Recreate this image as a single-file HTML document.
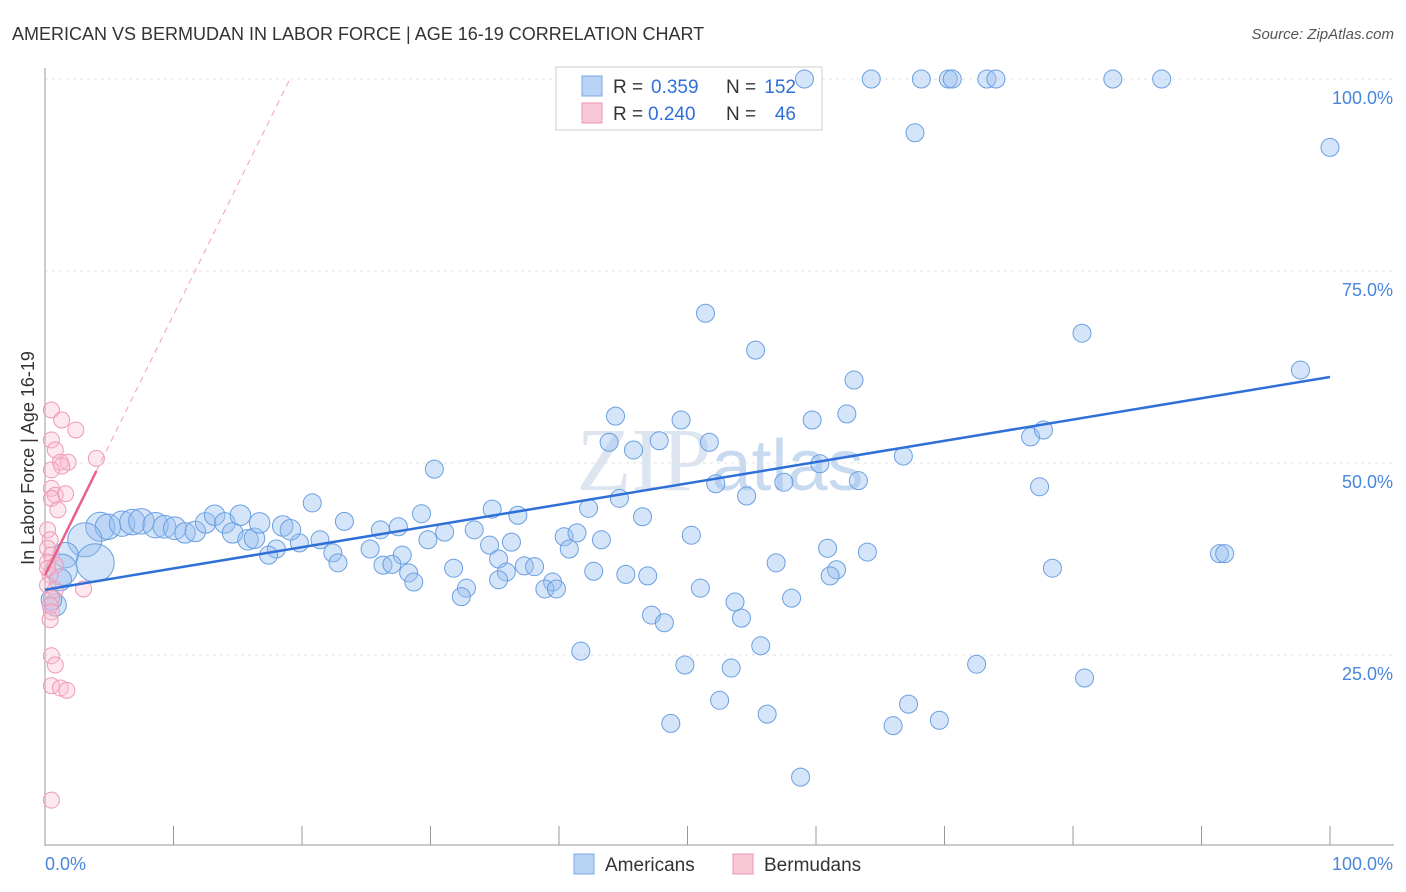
<!DOCTYPE html>
<html><head><meta charset="utf-8">
<style>
body{margin:0;background:#fff;font-family:"Liberation Sans",sans-serif;}
svg{display:block}
</style></head>
<body>
<svg id="chart" width="1406" height="892" viewBox="0 0 1406 892" font-family="Liberation Sans, sans-serif">
<text x="12" y="40" font-size="18" fill="#333">AMERICAN VS BERMUDAN IN LABOR FORCE | AGE 16-19 CORRELATION CHART</text>
<text x="1394" y="39" font-size="15" fill="#555" font-style="italic" text-anchor="end">Source: ZipAtlas.com</text>
<text x="720" y="490" font-size="90" fill="#dde6f0" text-anchor="middle" font-family="Liberation Serif, serif">ZIP<tspan font-family="Liberation Sans, sans-serif" font-size="72" fill="#c8daf0">atlas</tspan></text>
<g id="grid"></g>
<g id="axes"></g>
<g>
<rect x="556" y="67" width="266" height="63" fill="#fff" stroke="#ccc"/>
<rect x="582" y="76" width="20" height="20" fill="#b9d3f5" stroke="#7aa7e6"/>
<rect x="582" y="103" width="20" height="20" fill="#f9c8d6" stroke="#ee94b0"/>
<text x="613" y="93" font-size="19" fill="#333">R =</text>
<text x="651" y="93" font-size="19" fill="#2f6fd6">0.359</text>
<text x="726" y="93" font-size="19" fill="#333">N =</text>
<text x="796" y="93" font-size="19" fill="#2f6fd6" text-anchor="end">152</text>
<text x="613" y="120" font-size="19" fill="#333">R =</text>
<text x="648" y="120" font-size="19" fill="#2f6fd6">0.240</text>
<text x="726" y="120" font-size="19" fill="#333">N =</text>
<text x="796" y="120" font-size="19" fill="#2f6fd6" text-anchor="end">46</text>
</g>
<g id="marks"></g>
<text transform="translate(34,458) rotate(-90)" font-size="18" fill="#333" text-anchor="middle">In Labor Force | Age 16-19</text>
<g>
<rect x="574" y="854" width="20" height="20" fill="#b9d3f5" stroke="#7aa7e6"/>
<text x="605" y="871" font-size="19" fill="#333">Americans</text>
<rect x="733" y="854" width="20" height="20" fill="#f9c8d6" stroke="#ee94b0"/>
<text x="764" y="871" font-size="19" fill="#333">Bermudans</text>
</g>
</svg>
<script>
const blueX=[59.1,64.3,68.2,70.3,70.6,73.3,74.0,83.1,86.9,67.7,100,51.4,80.7,55.3,97.7,62.96,44.4,49.5,59.7,62.4,43.9,47.8,51.7,45.8,76.7,77.7,66.8,60.3,30.3,52.2,57.5,63.3,77.4,54.6,44.7,20.8,29.3,34.8,36.8,42.3,46.5,50.3,40.4,41.4,43.3,33.4,31.1,27.5,26.1,23.3,29.8,36.3,40.8,60.9,64.0,91.4,91.8,34.6,35.3,27.8,25.3,22.4,19.8,18.0,17.4,21.4,22.8,26.3,27.0,31.8,37.3,38.1,35.9,28.3,28.7,56.9,61.6,61.1,78.4,42.7,45.2,46.9,39.5,38.9,39.8,32.8,35.3,32.4,51.0,53.7,58.1,47.2,48.2,54.2,41.7,55.7,49.8,53.4,72.5,80.9,52.5,67.2,56.2,69.6,48.7,66.0,58.8,4.3,4.9,6.0,6.8,7.5,8.6,9.3,10.1,10.9,11.7,12.5,13.2,14.0,14.6,15.2,15.8,16.3,16.7,18.5,19.1,3.1,3.9,1.6,1.3,0.8,1.2,0.5];
const blueY=[100,100,100,100,100,100,100,100,100,93.0,91.1,69.5,66.9,64.7,62.1,60.8,56.1,55.6,55.6,56.4,52.7,52.9,52.7,51.7,53.4,54.3,50.9,49.9,49.2,47.3,47.5,47.7,46.9,45.7,45.4,44.8,43.4,44.0,43.2,44.1,43.0,40.6,40.4,40.9,40.0,41.3,41.0,41.7,41.3,42.4,40.0,39.7,38.8,38.9,38.4,38.2,38.2,39.3,37.5,38.0,38.8,38.3,39.6,38.8,38.0,40.0,37.0,36.7,36.8,36.3,36.6,36.5,35.8,35.7,34.5,37.0,36.1,35.3,36.3,35.9,35.5,35.3,34.5,33.6,33.6,33.7,34.8,32.6,33.7,31.9,32.4,30.2,29.2,29.8,25.5,26.2,23.7,23.3,23.8,22.0,19.1,18.6,17.3,16.5,16.1,15.8,9.1,41.7,41.7,42.1,42.3,42.4,41.9,41.7,41.5,40.9,41.1,42.2,43.2,42.2,40.9,43.2,40.0,40.2,42.2,41.8,41.3,40.0,37.0,38.0,36.1,31.5,34.8,32.2];
const blueW=[1,1,1,1,1,1,1,1,1,1,1,1,1,1,1,1,1,1,1,1,1,1,1,1,1,1,1,1,1,1,1,1,1,1,1,1,1,1,1,1,1,1,1,1,1,1,1,1,1,1,1,1,1,1,1,1,1,1,1,1,1,1,1,1,1,1,1,1,1,1,1,1,1,1,1,1,1,1,1,1,1,1,1,1,1,1,1,1,1,1,1,1,1,1,1,1,1,1,1,1,1,1,1,1,1,1,1,2.6,2,2,2,2,2,1.6,1.6,1.3,1.3,1.3,1.3,1.3,1.3,1.3,1.3,1.3,1.3,1.3,1.3,3.6,4.5,2,3,1.5,1.5,1.3];
const pinkX=[0.5,1.3,2.4,0.5,0.8,1.2,1.8,1.3,0.5,4.0,0.5,0.8,1.6,0.5,1.0,0.2,0.4,0.2,0.5,0.2,0.8,0.4,0.2,3.0,0.8,0.5,0.4,0.5,0.4,0.5,0.8,0.5,1.2,1.7,0.5,0.2];
const pinkY=[56.9,55.6,54.3,53.0,51.7,50.1,50.1,49.6,49.1,50.6,46.7,45.8,46.0,45.4,43.9,41.3,40.0,38.9,38.0,37.1,36.7,35.4,34.1,33.6,33.5,32.4,31.4,30.6,29.6,24.9,23.7,21.0,20.7,20.4,6.1,36.3];
const blueTrend=[33.5,61.2];
const pinkTrend=[35.4,3.39];
const yTicks=[25,50,75,100];
const yTickLabels=["25.0%","50.0%","75.0%","100.0%"];
const xTicks=[0,10,20,30,40,50,60,70,80,90,100];

const X=v=>45+v*12.85, Y=v=>847-v*7.68;
const NS="http://www.w3.org/2000/svg";
function mk(tag,attrs,parent){const e=document.createElementNS(NS,tag);for(const k in attrs)e.setAttribute(k,attrs[k]);parent.appendChild(e);return e;}
const grid=document.getElementById('grid'),axes=document.getElementById('axes'),marks=document.getElementById('marks');
yTicks.forEach((t,i)=>{
  const l=mk('line',{x1:45,x2:1394,y1:Y(t),y2:Y(t),stroke:'#e2e2e2','stroke-dasharray':'3,4'},grid);
  
  
  const tx=mk('text',{x:1393,y:Y(t)+25,'font-size':18,fill:'#4a86dc','text-anchor':'end'},axes);
  tx.textContent=yTickLabels[i];
  
  
});
const ya=mk('line',{x1:45,x2:45,y1:68,y2:846,stroke:'#999'},axes);


const xa=mk('line',{x1:45,x2:1394,y1:845,y2:845,stroke:'#999'},axes);


xTicks.forEach(t=>{
  const l=mk('line',{x1:X(t),x2:X(t),y1:826,y2:845,stroke:'#999'},axes);
  
  
});
const xl0=mk('text',{x:45,y:870,'font-size':18,fill:'#4a86dc'},axes);xl0.textContent='0.0%';


const xl1=mk('text',{x:1393,y:870,'font-size':18,fill:'#4a86dc','text-anchor':'end'},axes);xl1.textContent='100.0%';



blueX.forEach((x,i)=>{
  const c=mk('circle',{cx:X(x),cy:Y(blueY[i]),r:9*Math.sqrt(blueW[i]),fill:'rgba(150,190,240,0.4)',stroke:'#6a9fe2','stroke-width':1},marks);
  
  
});
pinkX.forEach((x,i)=>{
  const c=mk('circle',{cx:X(x),cy:Y(pinkY[i]),r:8,fill:'rgba(248,190,208,0.35)',stroke:'#ef9ab5','stroke-width':1},marks);
  
  
});
const bt=mk('line',{x1:X(0),y1:Y(blueTrend[0]),x2:X(100),y2:Y(blueTrend[1]),stroke:'#2e6fd8','stroke-width':2.5},marks);


const xEnd=(100-pinkTrend[0])/pinkTrend[1];
const pd=mk('line',{x1:X(4),y1:Y(pinkTrend[0]+4*pinkTrend[1]),x2:X(xEnd),y2:Y(100),stroke:'#f0a0b8','stroke-width':1,'stroke-dasharray':'6,5'},marks);


const pt=mk('line',{x1:X(0),y1:Y(pinkTrend[0]),x2:X(4),y2:Y(pinkTrend[0]+4*pinkTrend[1]),stroke:'#e8608a','stroke-width':2.5},marks);


</script>
</body></html>
